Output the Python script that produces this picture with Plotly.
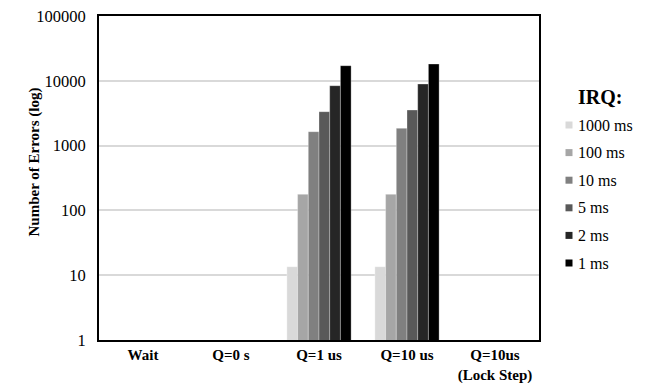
import plotly.graph_objects as go

# Error counts per quantum setting, one series per IRQ period (log y axis)
categories = ["Wait", "Q=0 s", "Q=1 us", "Q=10 us", "Q=10us<br>(Lock Step)"]
irq_labels = ["1000 ms", "100 ms", "10 ms", "5 ms", "2 ms", "1 ms"]
errors_1000ms = [None, None, 13.5, 13.5, None]
errors_100ms = [None, None, 177, 177, None]
errors_10ms = [None, None, 1640, 1850, None]
errors_5ms = [None, None, 3340, 3540, None]
errors_2ms = [None, None, 8400, 8920, None]
errors_1ms = [None, None, 17100, 18150, None]
series = [errors_1000ms, errors_100ms, errors_10ms, errors_5ms, errors_2ms, errors_1ms]
colors = ["#d9d9d9", "#a6a6a6", "#808080", "#595959", "#262626", "#000000"]
y_ticks = [1, 10, 100, 1000, 10000, 100000]

FONT = "Liberation Serif"
W, H = 646, 383
L, R, T, B = 99, 107, 16, 43
PW, PH = W - L - R, H - T - B


def px_x(px):
    return (px - L) / PW


def px_y(py):
    return (H - B - py) / PH


fig = go.Figure()
for name, vals, col in zip(irq_labels, series, colors):
    fig.add_trace(go.Bar(
        x=categories, y=vals, name=name,
        marker=dict(color=col, line=dict(color="rgba(255,255,255,0.6)", width=0.5)),
    ))

fig.update_layout(
    width=W, height=H,
    margin=dict(l=L, r=R, t=T, b=B),
    paper_bgcolor="white", plot_bgcolor="white",
    barmode="group", bargap=0.27, bargroupgap=0,
    font=dict(family=FONT, size=15, color="black"),
    showlegend=False,
)
fig.update_xaxes(
    type="category", categoryorder="array", categoryarray=categories,
    showline=True, linecolor="black", linewidth=2, mirror=True, automargin=False,
    ticks="", ticklabelstandoff=0,
    tickfont=dict(family=FONT, size=15, color="black", weight="bold"),
)
fig.update_yaxes(
    type="log", range=[0, 5], automargin=False,
    tickvals=y_ticks, ticktext=[str(v) for v in y_ticks],
    showline=True, linecolor="black", linewidth=2, mirror=True,
    showgrid=True, gridcolor="#d9d9d9", gridwidth=1.5,
    ticks="", ticklabelstandoff=8,
    tickfont=dict(family=FONT, size=16.5, color="black"),
)
fig.add_annotation(
    text="<b>Number of Errors (log)</b>", textangle=-90,
    xref="paper", yref="paper", x=px_x(23), y=px_y(162),
    showarrow=False, font=dict(family=FONT, size=15, color="black"),
)

# IRQ key: title, grey swatches and labels to the right of the plot
fig.add_annotation(
    text="<b>IRQ:</b>", xref="paper", yref="paper",
    x=px_x(576), xanchor="left", y=px_y(97), yanchor="middle",
    showarrow=False, font=dict(family=FONT, size=20, color="black"),
)
for i, (name, col) in enumerate(zip(irq_labels, colors)):
    cy = 125 + i * 27.6
    fig.add_shape(
        type="rect", xref="paper", yref="paper",
        x0=px_x(565.5), x1=px_x(572.5), y0=px_y(cy + 3.5), y1=px_y(cy - 3.5),
        fillcolor=col, line=dict(width=0),
    )
    fig.add_annotation(
        text=name, xref="paper", yref="paper",
        x=px_x(576), xanchor="left", y=px_y(cy), yanchor="middle",
        showarrow=False, font=dict(family=FONT, size=16, color="black"),
    )

fig.write_html("out.html")
